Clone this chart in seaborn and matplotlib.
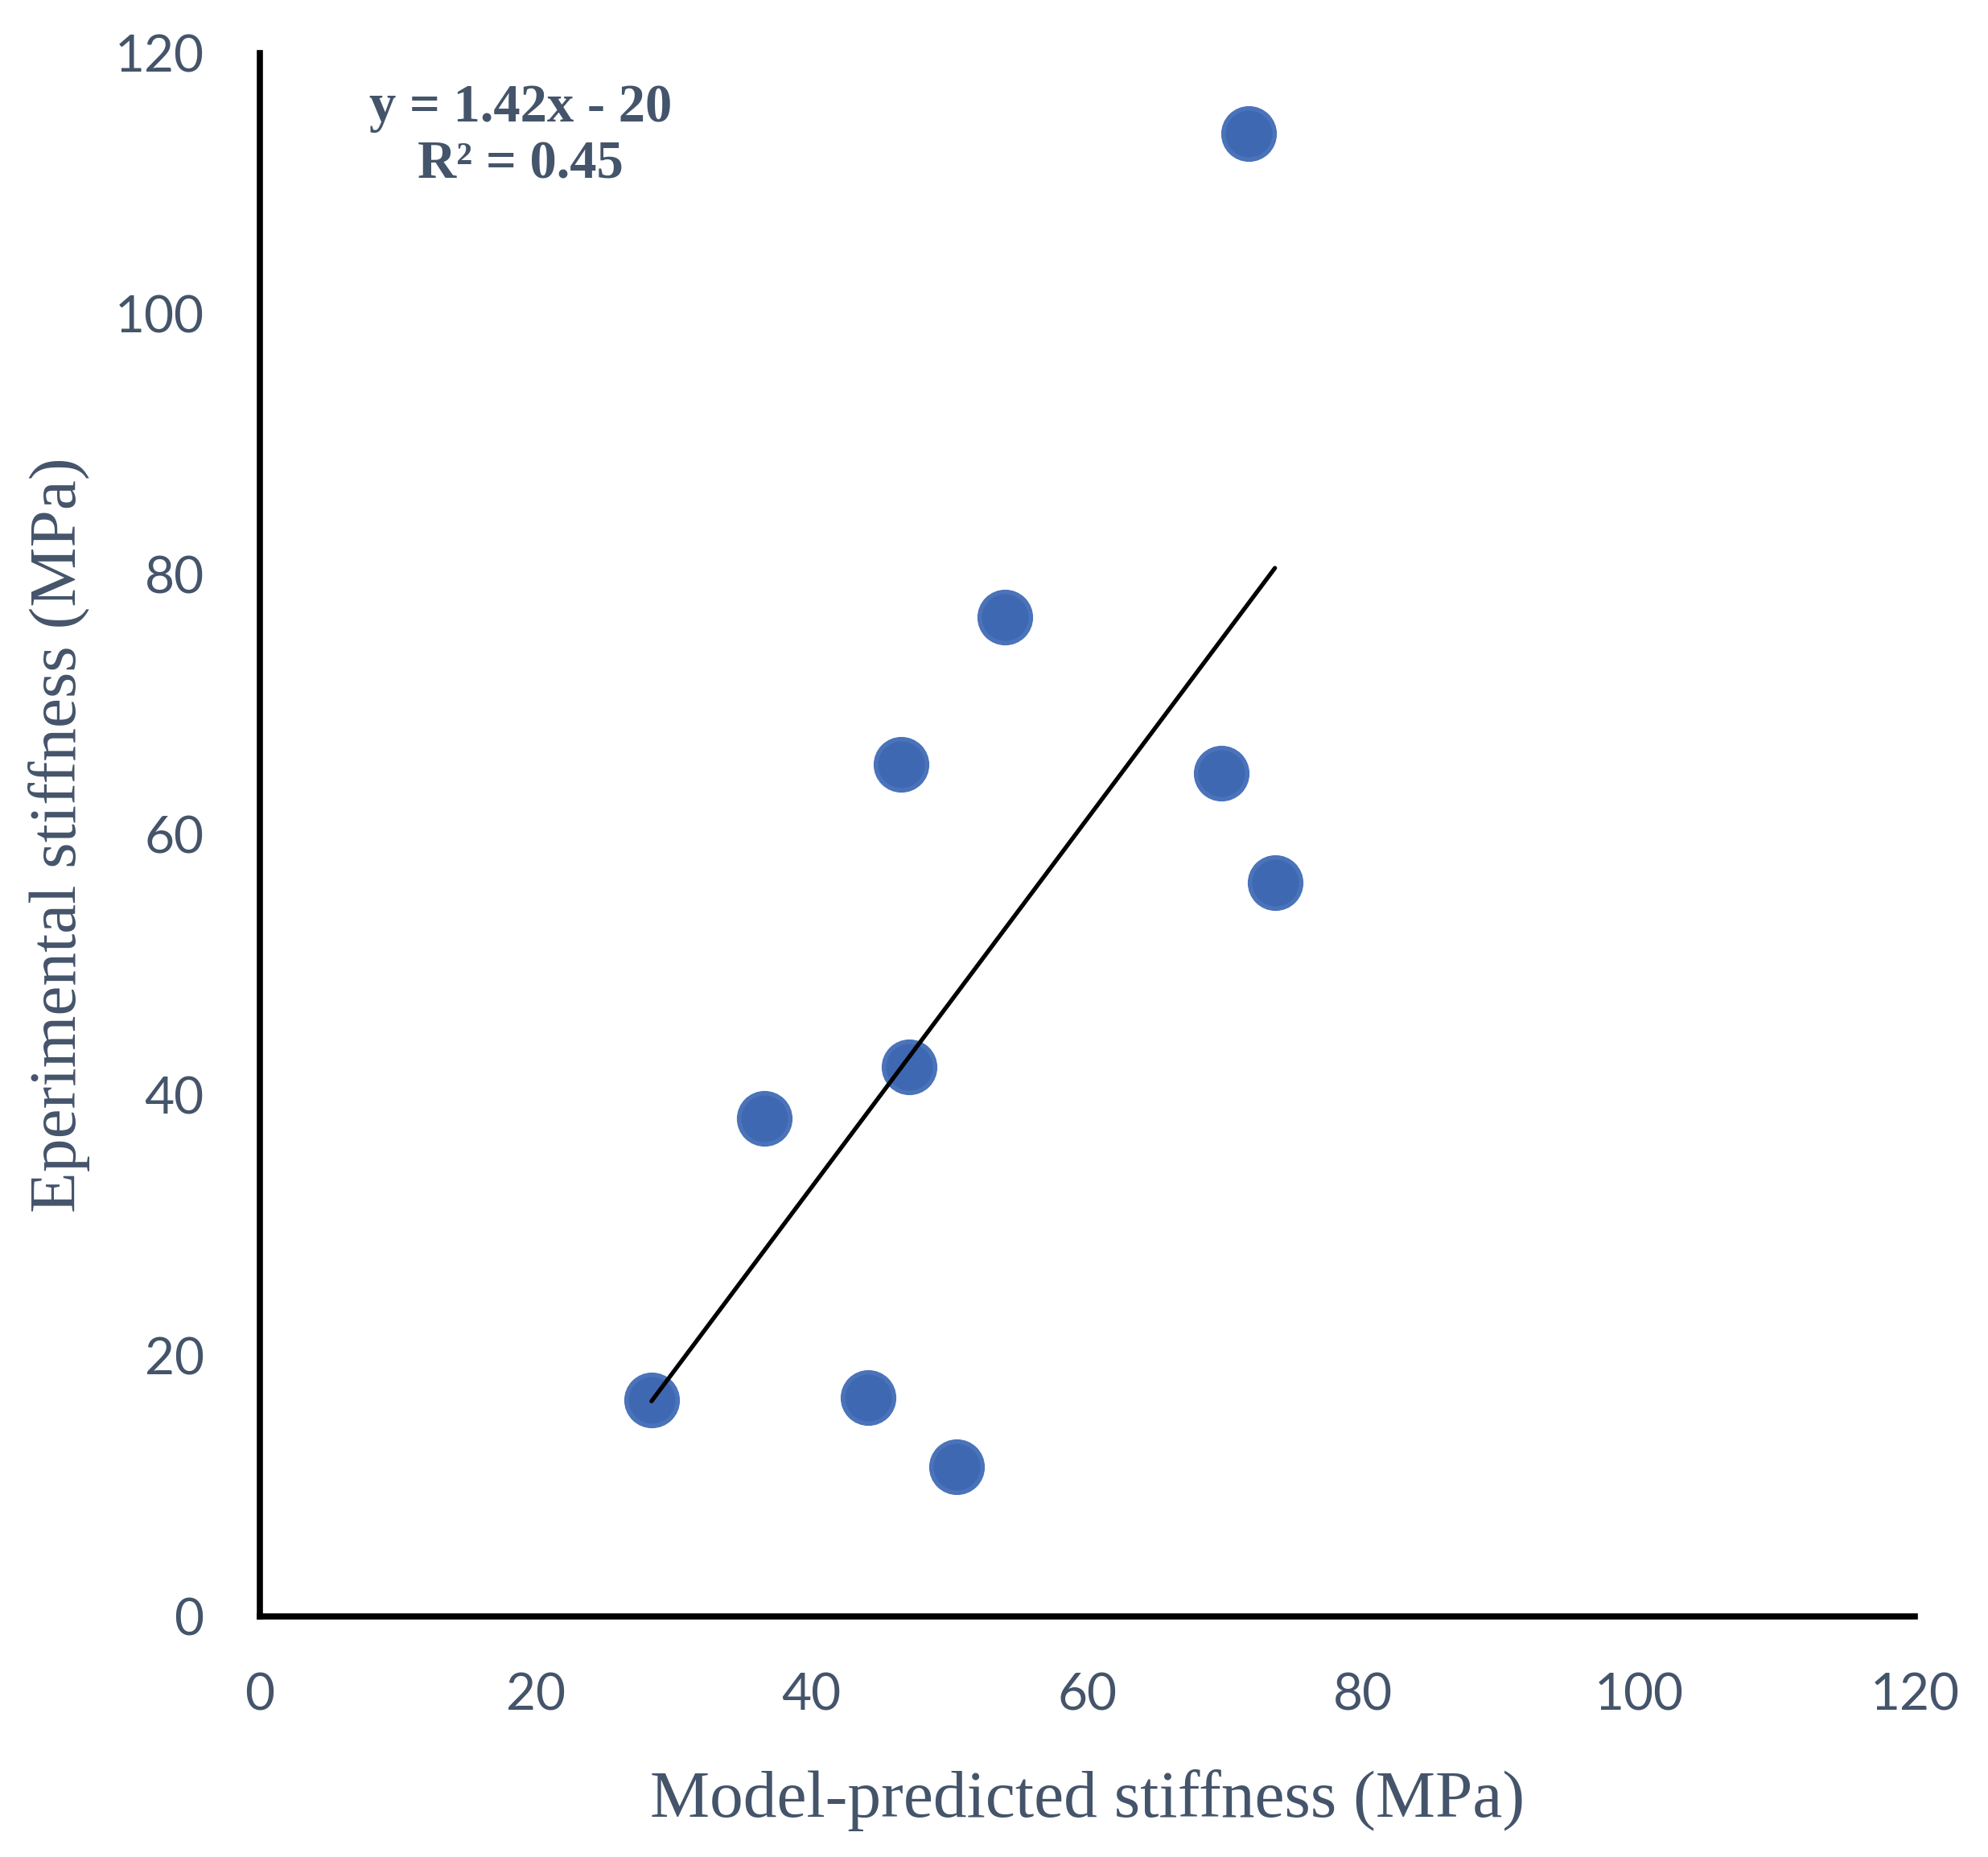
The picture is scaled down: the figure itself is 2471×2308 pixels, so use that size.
import matplotlib
matplotlib.use('Agg')
import matplotlib.pyplot as plt
import pandas as pd
import seaborn as sns

# values
predicted = [71.7, 54.0, 46.5, 69.7, 73.6, 47.1, 36.6, 28.4, 44.1, 50.5]
experimental = [113.8, 76.7, 65.4, 64.7, 56.3, 42.2, 38.2, 16.6, 16.8, 11.5]
ticks = [0, 20, 40, 60, 80, 100, 120]
equation = 'y = 1.42x - 20\nR² = 0.45'

TEXT = '#44546A'


def main():
    sns.set_style('white')
    plt.rcParams['font.family'] = ['Lato', 'DejaVu Sans']

    df = pd.DataFrame({'predicted': predicted, 'experimental': experimental})

    fig = plt.figure(figsize=(24.71, 23.08), dpi=100)
    ax = fig.add_axes([0.1307, 0.1296, 0.8325, 0.8418])

    sns.regplot(data=df, x='predicted', y='experimental', ax=ax, ci=None, truncate=True,
                scatter_kws=dict(s=2100, color='#3F68B2', edgecolors='#4A73BA',
                                 linewidths=4, alpha=1, zorder=3),
                line_kws=dict(color='black', linewidth=3.8, zorder=4, solid_capstyle='round'))

    ax.set_xlim(0, 120)
    ax.set_ylim(0, 120)
    ax.set_xticks(ticks)
    ax.set_yticks(ticks)
    ax.tick_params(axis='both', length=0, labelsize=46, labelcolor=TEXT)
    ax.tick_params(axis='x', pad=50)
    ax.tick_params(axis='y', pad=50)

    for side in ['top', 'right']:
        ax.spines[side].set_visible(False)
    for side in ['left', 'bottom']:
        ax.spines[side].set_color('black')
        ax.spines[side].set_linewidth(5.5)

    serif = ['Liberation Serif', 'DejaVu Serif']
    ax.set_xlabel('Model-predicted stiffness (MPa)', fontsize=60, color=TEXT,
                  family=serif, labelpad=45)
    ax.set_ylabel('Eperimental stiffness (MPa)', fontsize=60, color=TEXT,
                  family=serif, labelpad=22)

    ax.text(18.9, 113.6, equation, ha='center', va='center', fontsize=48,
            fontweight='bold', color=TEXT, family=serif, linespacing=1.2)

    fig.savefig('out.png', dpi=100)


if __name__ == '__main__':
    main()
